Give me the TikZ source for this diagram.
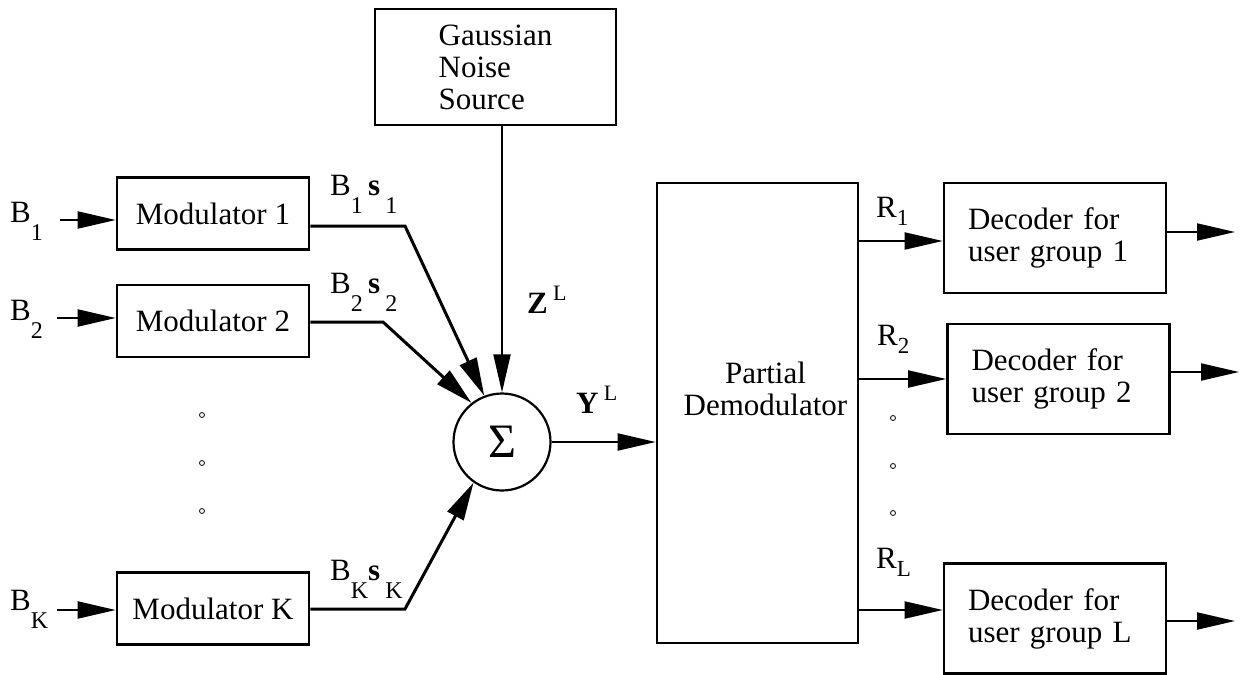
\documentclass[tikz,border=0pt]{standalone}
\usepackage{fontspec}
\setmainfont{Liberation Serif}
\usetikzlibrary{positioning,arrows.meta,calc}

% lowered subscripts and raised superscript, as in the figure
\newcommand{\dn}[1]{\raisebox{-18pt}{\fontsize{24}{24}\selectfont #1}}
\newcommand{\rsub}[1]{\raisebox{-8pt}{\fontsize{23}{23}\selectfont #1}}
\newcommand{\up}[1]{\raisebox{13pt}{\fontsize{22}{22}\selectfont #1}}

\begin{document}
\begin{tikzpicture}[
    x=1pt, y=-1pt,
    font=\fontsize{31}{32}\selectfont,
    box/.style={draw, line width=2.6pt, inner sep=0pt, align=center},
    modbox/.style={box, minimum width=192pt, minimum height=72pt},
    decbox/.style={box, minimum width=222pt, minimum height=110pt, text width=174pt, align=left},
    lbl/.style={anchor=base west, inner sep=0pt},
    arrow/.style={-{Triangle[length=38pt, width=17pt]}, line width=2pt},
    sumline/.style={-{Triangle[length=38pt, width=18pt]}, line width=3pt},
    dot/.style={circle, draw, line width=0.8pt, inner sep=0pt, minimum size=5pt}
]
    \useasboundingbox (0,0) rectangle (1243,675);

    % Modulators
    \node[modbox] (mod1) at (213,213.5) {Modulator 1};
    \node[modbox] (mod2) at (213,321) {Modulator 2};
    \node[modbox] (modK) at (213,608.5) {Modulator K};

    % Inputs
    \coordinate (in1) at (60,220);
    \coordinate (in2) at (57,318);
    \coordinate (inK) at (57,610);
    \node[lbl] (b1) at (10,222) {B\dn{1}};
    \node[lbl] (b2) at (10,320) {B\dn{2}};
    \node[lbl] (bK) at (10,610) {B\dn{K}};

    % Dots between modulators
    \foreach \y in {415,463,511}
        \node[dot] (ldot\y) at (202,\y) {};

    % Noise source
    \node[box, minimum width=241pt, minimum height=116pt, align=left] (noise) at (495.5,67) {Gaussian\\Noise\\Source};

    % Summer
    \node[circle, draw, line width=2.2pt, minimum size=97pt, inner sep=0pt,
          font=\fontsize{48}{48}\selectfont] (sum) at (502,442) {Σ};

    % Partial demodulator
    \node[box, minimum width=201pt, minimum height=460pt,
          label={[align=center, xshift=8pt, yshift=24pt]center:Partial\\Demodulator}] (demod) at (757.5,413) {};

    % Decoders
    \node[decbox] (dec1) at (1055,238) {Decoder for\\user group 1};
    \node[decbox] (dec2) at (1058.5,379) {Decoder for\\user group 2};
    \node[decbox] (decL) at (1055,618.5) {Decoder for\\user group L};

    % Dots between decoders
    \foreach \y in {418,466,513}
        \node[dot] (rdot\y) at (893,\y) {};

    % Signal labels
    \node[lbl] (s1lbl) at (330,195) {B\dn{1}\,\textbf{s}\,\dn{1}};
    \node[lbl] (s2lbl) at (330,293) {B\dn{2}\,\textbf{s}\,\dn{2}};
    \node[lbl] (sKlbl) at (330,580) {B\dn{K}\textbf{s}\,\dn{K}};
    \node[lbl] (zlbl) at (527,313) {\textbf{Z}\,\up{L}};
    \node[lbl] (ylbl) at (576,413) {\textbf{Y}\,\up{L}};
    \node[lbl] (r1lbl) at (876,217) {R\rsub{1}};
    \node[lbl] (r2lbl) at (877,345) {R\rsub{2}};
    \node[lbl] (rLlbl) at (876,568) {R\rsub{L}};

    % Bend points and free ends
    \coordinate (k1) at (405,226);
    \coordinate (k2) at (383,322);
    \coordinate (kK) at (405,609);
    \coordinate (out1) at (1235,232);
    \coordinate (out2) at (1239,372);
    \coordinate (outL) at (1235,621);

    % Arrows
    \draw[arrow] (in1) -- (in1 -| mod1.west);
    \draw[arrow] (in2) -- (in2 -| mod2.west);
    \draw[arrow] (inK) -- (inK -| modK.west);
    \draw[sumline] (k1 -| mod1.east) -- (k1) -- (sum.111);
    \draw[sumline] (k2 -| mod2.east) -- (k2) -- (sum.128);
    \draw[sumline] (kK -| modK.east) -- (kK) -- (sum.235);
    \draw[arrow] (sum |- noise.south) -- (sum.north);
    \draw[arrow] (sum.east) -- (sum.east -| demod.west);
    \draw[arrow] ([yshift=-3pt]dec1.west -| demod.east) -- ([yshift=-3pt]dec1.west);
    \draw[arrow] (dec2.west -| demod.east) -- (dec2.west);
    \draw[arrow] ([yshift=8.5pt]decL.west -| demod.east) -- ([yshift=8.5pt]decL.west);
    \draw[arrow] (out1 -| dec1.east) -- (out1);
    \draw[arrow] (out2 -| dec2.east) -- (out2);
    \draw[arrow] (outL -| decL.east) -- (outL);
\end{tikzpicture}
\end{document}
